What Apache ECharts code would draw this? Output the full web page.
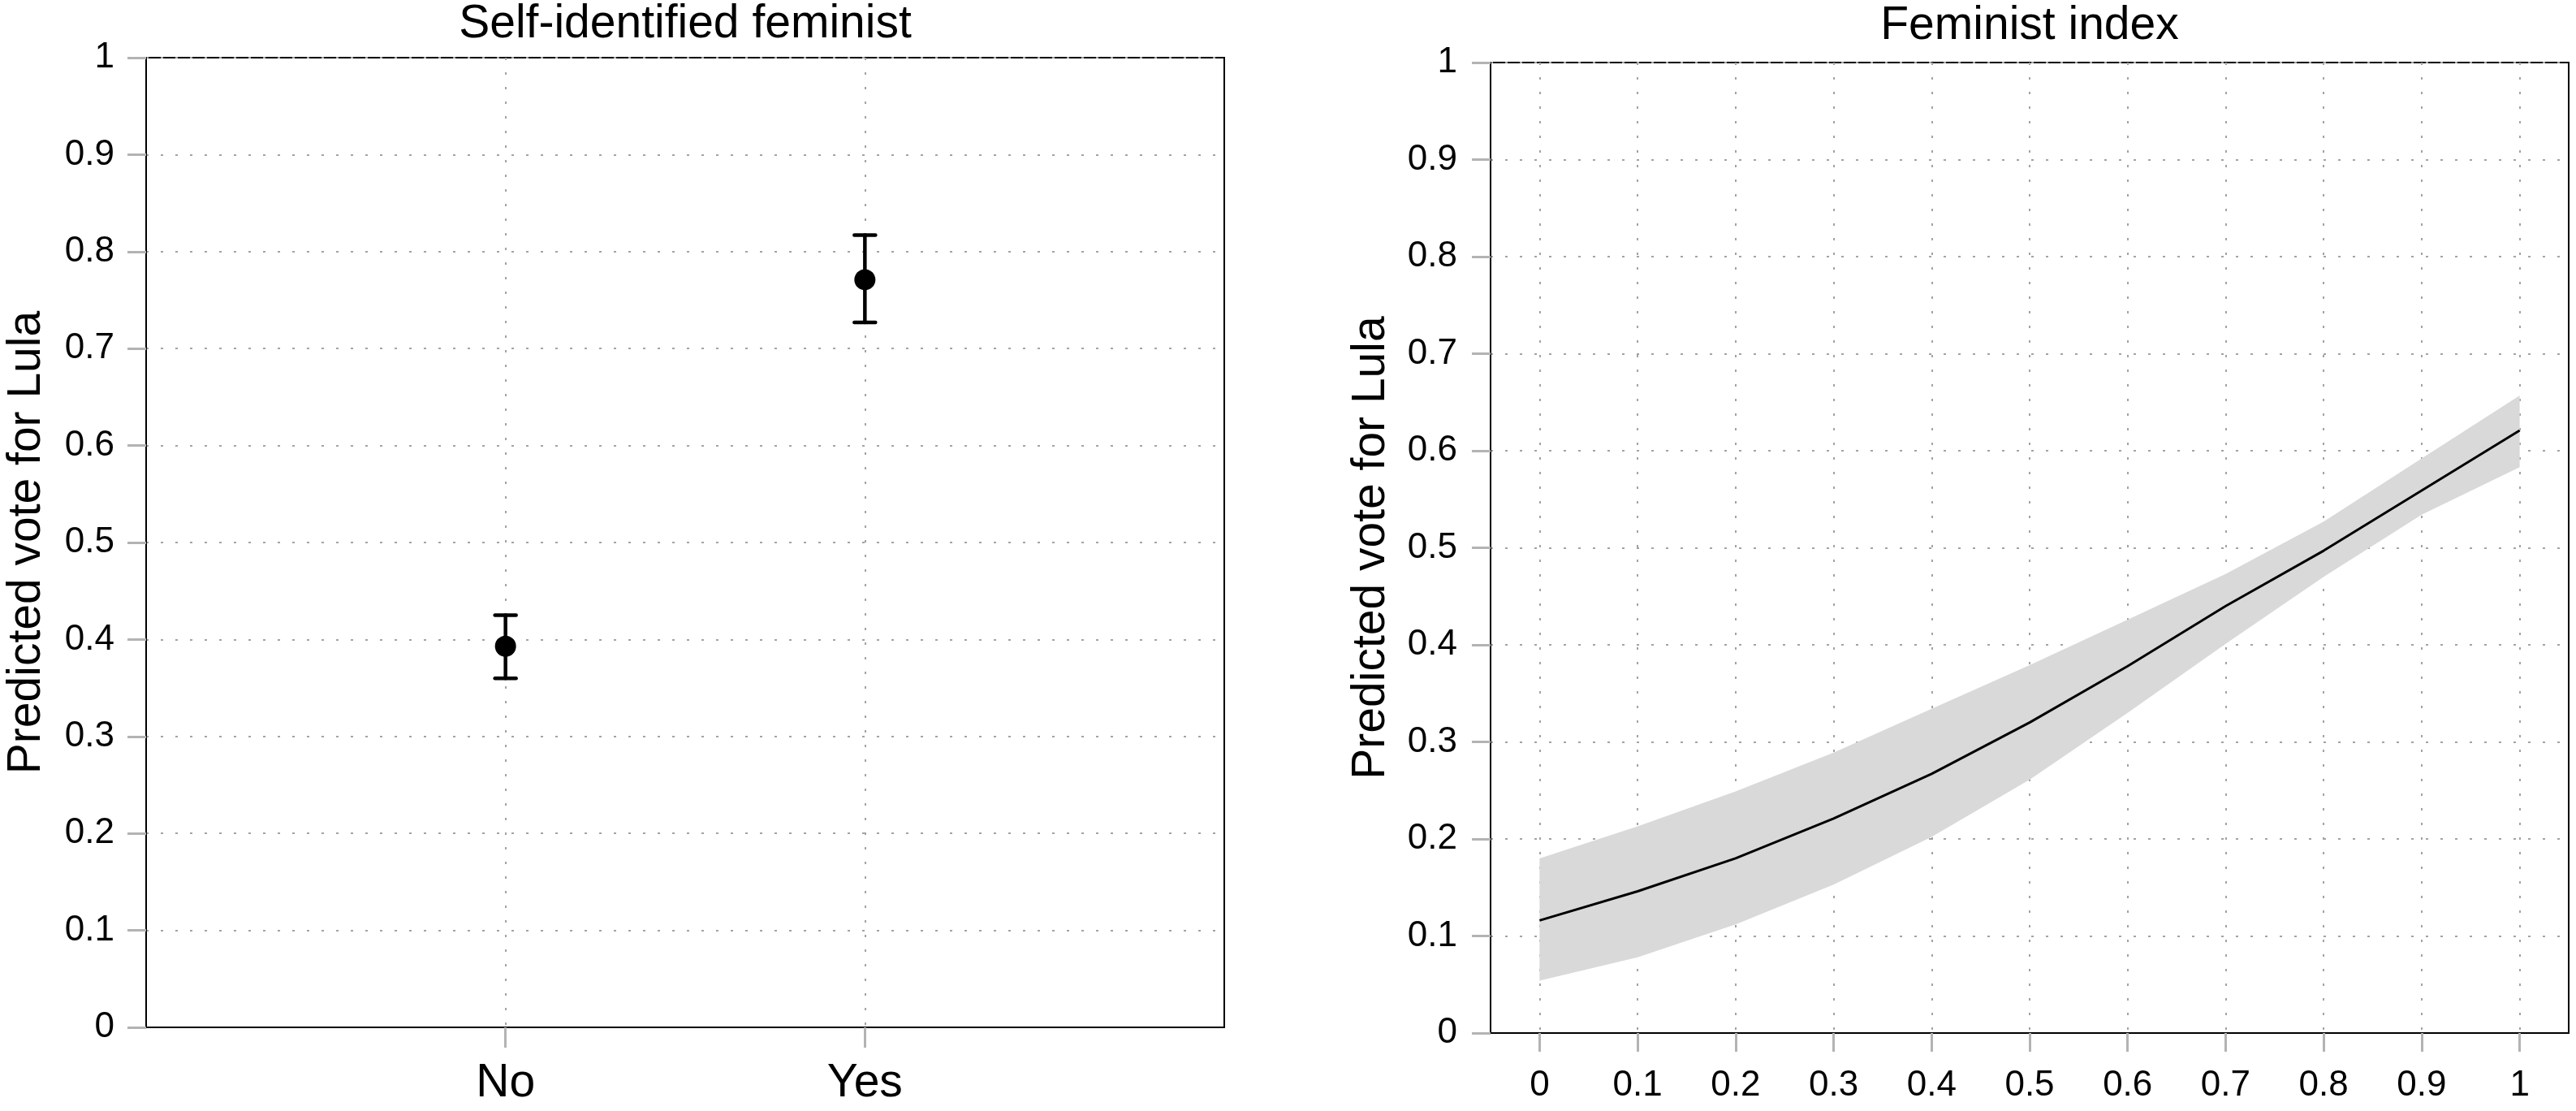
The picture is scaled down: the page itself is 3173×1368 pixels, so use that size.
<!DOCTYPE html>
<html>
<head>
<meta charset="utf-8">
<script src="https://cdn.jsdelivr.net/npm/echarts@6/dist/echarts.min.js"></script>
<style>
html,body{margin:0;padding:0;background:#fff;}
#chart{width:3173px;height:1368px;}
</style>
</head>
<body>
<div id="chart"></div>
<script>
// ---- Data ----
var leftTitle = 'Self-identified feminist';
var rightTitle = 'Feminist index';
var yName = 'Predicted vote for Lula';
var categories = ['No', 'Yes'];
var pointEst = [0.393, 0.771];
var pointLow = [0.360, 0.727];
var pointHigh = [0.425, 0.817];

var yTicks = [0, 0.1, 0.2, 0.3, 0.4, 0.5, 0.6, 0.7, 0.8, 0.9, 1];
var indexX = [0, 0.1, 0.2, 0.3, 0.4, 0.5, 0.6, 0.7, 0.8, 0.9, 1];
var indexFit = [0.116, 0.146, 0.180, 0.221, 0.267, 0.320, 0.378, 0.440, 0.497, 0.559, 0.621];
var indexLow = [0.054, 0.078, 0.112, 0.153, 0.202, 0.261, 0.330, 0.401, 0.470, 0.534, 0.583];
var indexHigh = [0.180, 0.213, 0.249, 0.289, 0.334, 0.379, 0.426, 0.473, 0.527, 0.592, 0.657];

// ---- Build ----
var FONT = 'Liberation Sans, Arial, Helvetica, sans-serif';
var catPos = categories.map(function (c, i) { return i + 1; });
var gridStyle = { type: [3, 15], width: 2, color: '#a3a3a3' };
var tickStyle = { width: 3, color: '#b3b3b3' };

var chart = echarts.init(document.getElementById('chart'), null, { renderer: 'canvas' });

function yAxisDef(gridIndex, margin) {
  return {
    type: 'value', gridIndex: gridIndex, min: 0, max: 1, interval: 0.1,
    name: yName, nameLocation: 'middle', nameGap: 118, nameRotate: 90,
    nameTextStyle: { fontFamily: FONT, fontSize: 57, color: '#000' },
    axisLine: { show: true, onZero: false, lineStyle: { color: '#000', width: 2 } },
    axisTick: { show: true, length: 23, inside: false, lineStyle: tickStyle },
    axisLabel: { fontFamily: FONT, fontSize: 44, color: '#000', margin: margin,
      formatter: function (v) { return String(+v.toFixed(2)); } },
    splitLine: { show: true, lineStyle: gridStyle }
  };
}

var option = {
  backgroundColor: '#fff',
  animation: false,
  graphic: [
    { type: 'text', x: 844, y: 2, style: { text: leftTitle, font: '57px ' + FONT, fill: '#000', textAlign: 'center', textVerticalAlign: 'top' } },
    { type: 'text', x: 2500, y: 4, style: { text: rightTitle, font: '57px ' + FONT, fill: '#000', textAlign: 'center', textVerticalAlign: 'top' } }
  ],
  grid: [
    { left: 180, top: 71, width: 1328, height: 1194, show: true, borderColor: '#000', borderWidth: 2, backgroundColor: 'transparent', containLabel: false },
    { left: 1836, top: 77, width: 1328, height: 1195, show: true, borderColor: '#000', borderWidth: 2, backgroundColor: 'transparent', containLabel: false }
  ],
  xAxis: [
    {
      type: 'value', gridIndex: 0, min: 0, max: categories.length + 1, interval: 1,
      axisLine: { show: true, onZero: false, lineStyle: { color: '#000', width: 2 } },
      axisTick: { show: true, length: 25, customValues: catPos, lineStyle: tickStyle },
      axisLabel: { fontFamily: FONT, fontSize: 57, color: '#000', margin: 41, customValues: catPos,
        formatter: function (v) { return categories[Math.round(v) - 1] || ''; } },
      splitLine: { show: true, lineStyle: gridStyle }
    },
    {
      type: 'value', gridIndex: 1, min: -0.05, max: 1.05,
      axisLine: { show: true, onZero: false, lineStyle: { color: '#000', width: 2 } },
      axisTick: { show: true, length: 23, customValues: indexX, lineStyle: tickStyle },
      axisLabel: { fontFamily: FONT, fontSize: 44, color: '#000', margin: 43, customValues: indexX,
        formatter: function (v) { return String(+(+v).toFixed(2)); } },
      splitLine: { show: true, lineStyle: gridStyle }
    }
  ],
  yAxis: [yAxisDef(0, 39), yAxisDef(1, 41)],
  series: [
    {
      type: 'custom', xAxisIndex: 0, yAxisIndex: 0, z: 3,
      data: catPos.map(function (p, i) { return [p, pointLow[i], pointHigh[i]]; }),
      renderItem: function (params, api) {
        var lo = api.coord([api.value(0), api.value(1)]);
        var hi = api.coord([api.value(0), api.value(2)]);
        var hw = 13;
        var st = { stroke: '#000', lineWidth: 4.5, lineCap: 'round' };
        return {
          type: 'group',
          children: [
            { type: 'line', shape: { x1: lo[0], y1: lo[1], x2: hi[0], y2: hi[1] }, style: st },
            { type: 'line', shape: { x1: lo[0] - hw, y1: lo[1], x2: lo[0] + hw, y2: lo[1] }, style: st },
            { type: 'line', shape: { x1: hi[0] - hw, y1: hi[1], x2: hi[0] + hw, y2: hi[1] }, style: st }
          ]
        };
      }
    },
    {
      type: 'scatter', xAxisIndex: 0, yAxisIndex: 0, z: 4,
      symbol: 'circle', symbolSize: 26,
      itemStyle: { color: '#000', opacity: 1 },
      data: catPos.map(function (p, i) { return [p, pointEst[i]]; })
    },
    {
      type: 'custom', xAxisIndex: 1, yAxisIndex: 1, z: 2,
      data: [[indexX[0], indexLow[0]]],
      renderItem: function (params, api) {
        var pts = [];
        for (var i = 0; i < indexX.length; i++) pts.push(api.coord([indexX[i], indexHigh[i]]));
        for (var j = indexX.length - 1; j >= 0; j--) pts.push(api.coord([indexX[j], indexLow[j]]));
        return { type: 'polygon', shape: { points: pts }, style: { fill: '#d9d9d9', stroke: 'none' } };
      }
    },
    {
      type: 'line', xAxisIndex: 1, yAxisIndex: 1, symbol: 'none', z: 3,
      lineStyle: { color: '#000', width: 3 },
      data: indexX.map(function (x, i) { return [x, indexFit[i]]; })
    }
  ]
};
chart.setOption(option);
</script>
</body>
</html>
